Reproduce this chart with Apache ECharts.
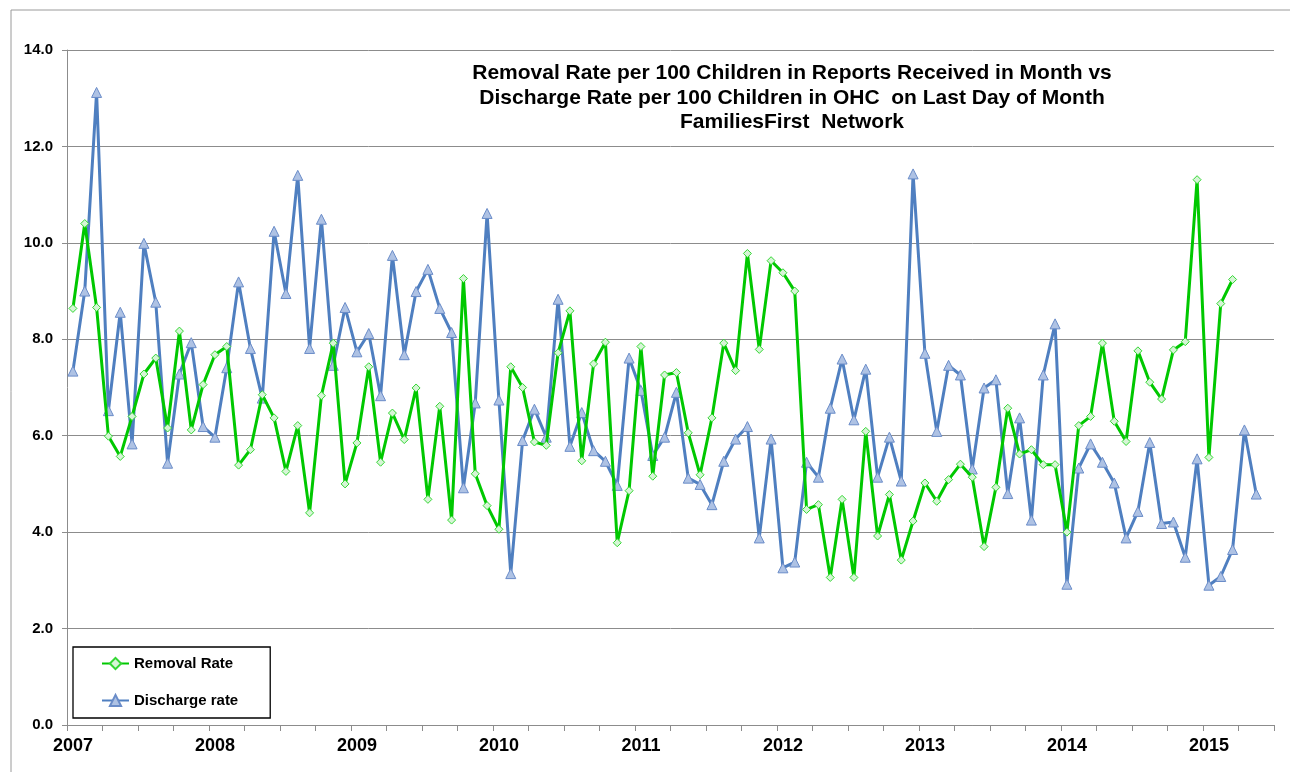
<!DOCTYPE html>
<html>
<head>
<meta charset="utf-8">
<title>Removal vs Discharge Rate</title>
<script src="https://cdn.jsdelivr.net/npm/echarts@6/dist/echarts.min.js"></script>
<style>
  html, body { margin: 0; padding: 0; background: #fff; }
  #chart { width: 1290px; height: 772px; }
</style>
</head>
<body>
<div id="chart"></div>
<script>
// Monthly rates, Jan 2007 onward (axis runs to Jun 2015)
const startYear = 2007;
const monthCount = 102;

const removalRate = [
  8.64, 10.40, 8.66, 5.99, 5.57, 6.40, 7.28, 7.61, 6.16, 8.17, 6.12, 7.06,
  7.68, 7.85, 5.39, 5.71, 6.85, 6.37, 5.26, 6.21, 4.40, 6.83, 7.92, 5.00,
  5.85, 7.43, 5.45, 6.47, 5.92, 6.99, 4.68, 6.61, 4.25, 9.26, 5.21, 4.55,
  4.06, 7.43, 7.00, 5.87, 5.80, 7.72, 8.59, 5.48, 7.49, 7.94, 3.78, 4.86,
  7.85, 5.16, 7.26, 7.31, 6.06, 5.19, 6.37, 7.92, 7.35, 9.78, 7.79, 9.63,
  9.38, 9.00, 4.47, 4.57, 3.06, 4.68, 3.06, 6.09, 3.92, 4.78, 3.42, 4.23,
  5.02, 4.64, 5.09, 5.41, 5.14, 3.70, 4.93, 6.57, 5.62, 5.71, 5.40, 5.40,
  4.00, 6.21, 6.40, 7.92, 6.30, 5.88, 7.76, 7.11, 6.76, 7.78, 7.95, 11.31,
  5.55, 8.74, 9.24
];

const dischargeRate = [
  7.34, 9.00, 13.12, 6.52, 8.56, 5.83, 9.99, 8.77, 5.43, 7.28, 7.93, 6.19,
  5.97, 7.41, 9.19, 7.81, 6.78, 10.24, 8.95, 11.40, 7.81, 10.49, 7.46, 8.66,
  7.74, 8.12, 6.83, 9.74, 7.68, 8.99, 9.45, 8.64, 8.14, 4.92, 6.68, 10.61,
  6.74, 3.14, 5.90, 6.55, 5.97, 8.83, 5.78, 6.48, 5.69, 5.47, 4.97, 7.61,
  6.94, 5.59, 5.97, 6.90, 5.12, 4.99, 4.57, 5.47, 5.93, 6.19, 3.88, 5.93,
  3.26, 3.38, 5.45, 5.14, 6.57, 7.59, 6.33, 7.38, 5.14, 5.97, 5.06, 11.43,
  7.71, 6.09, 7.46, 7.26, 5.31, 6.99, 7.16, 4.80, 6.37, 4.25, 7.26, 8.32,
  2.92, 5.33, 5.83, 5.45, 5.02, 3.88, 4.43, 5.86, 4.18, 4.21, 3.48, 5.52,
  2.90, 3.08, 3.64, 6.12, 4.79
];

const titleLines = [
  'Removal Rate per 100 Children in Reports Received in Month vs',
  'Discharge Rate per 100 Children in OHC  on Last Day of Month',
  'FamiliesFirst  Network'
];

// "2007-01", "2007-02", ...
const months = [];
for (let i = 0; i < monthCount; i++) {
  const y = startYear + Math.floor(i / 12);
  const m = (i % 12) + 1;
  months.push(y + '-' + (m < 10 ? '0' + m : m));
}

const FONT = '"Liberation Sans", Arial, sans-serif';
const GRID_GRAY = '#8c8c8c';

const chart = echarts.init(document.getElementById('chart'));
chart.setOption({
  animation: false,
  textStyle: { fontFamily: FONT },
  grid: { left: 67, right: 16, top: 50, bottom: 47, containLabel: false },
  graphic: [
    { type: 'rect', silent: true, z: -1,
      shape: { x: 11, y: 10, width: 1400, height: 900 },
      style: { fill: 'none', stroke: '#9a9a9a', lineWidth: 1 } },
    { type: 'text', silent: true,
      style: { x: 792, y: 61, text: titleLines.join('\n'), align: 'center', verticalAlign: 'top',
        font: 'bold 21px ' + FONT, lineHeight: 24.5, fill: '#000' } }
  ],
  legend: {
    orient: 'vertical', left: 73, top: 647,
    padding: [9, 32, 10, 28], itemGap: 22, itemWidth: 27, itemHeight: 14,
    borderColor: '#000', borderWidth: 1.3, backgroundColor: '#fff',
    textStyle: { fontFamily: FONT, fontSize: 15, fontWeight: 'bold', color: '#000' },
    data: ['Removal Rate', 'Discharge rate']
  },
  xAxis: {
    type: 'category', data: months, boundaryGap: true,
    axisLine: { lineStyle: { color: GRID_GRAY, width: 1 } },
    axisTick: { show: true, interval: 2, length: 6, lineStyle: { color: GRID_GRAY } },
    axisLabel: {
      interval: 11, margin: 12, color: '#000', fontSize: 18, fontWeight: 'bold', fontFamily: FONT,
      formatter: (v) => v.slice(0, 4)
    },
    splitLine: { show: false }
  },
  yAxis: {
    type: 'value', min: 0, max: 14, interval: 2,
    axisLine: { show: true, lineStyle: { color: GRID_GRAY, width: 1 } },
    axisTick: { show: true, length: 5, lineStyle: { color: GRID_GRAY } },
    axisLabel: { margin: 14, color: '#000', fontSize: 15, fontWeight: 'bold', fontFamily: FONT,
      formatter: (v) => v.toFixed(1) },
    splitLine: { show: true, lineStyle: { color: GRID_GRAY, width: 1 } }
  },
  series: [
    {
      name: 'Removal Rate', type: 'line', data: removalRate,
      symbol: 'diamond', symbolSize: 8, showAllSymbol: true,
      lineStyle: { color: '#00c800', width: 3 },
      itemStyle: { color: '#d6f5d6', borderColor: '#33d633', borderWidth: 1 },
      z: 3
    },
    {
      name: 'Discharge rate', type: 'line', data: dischargeRate,
      symbol: 'triangle', symbolSize: 10, showAllSymbol: true,
      lineStyle: { color: '#4f7fc0', width: 3 },
      itemStyle: { color: '#aec2e4', borderColor: '#6a8cc8', borderWidth: 1 },
      z: 2
    }
  ]
});
</script>
</body>
</html>
